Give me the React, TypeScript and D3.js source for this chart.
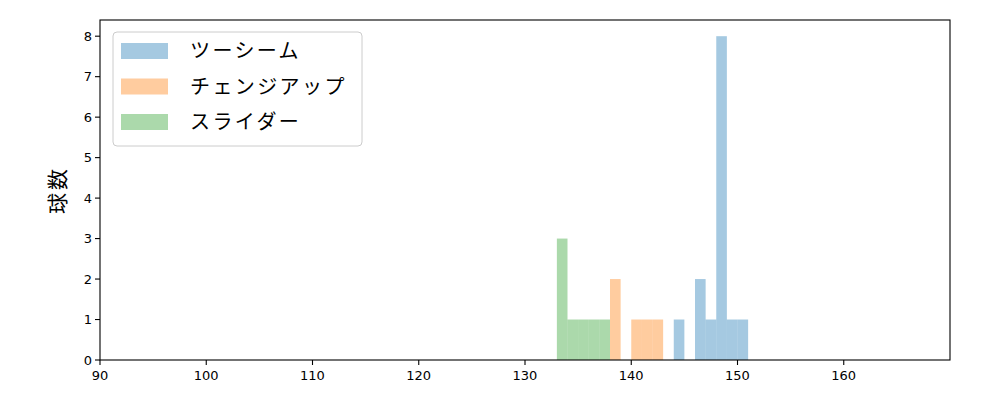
import * as d3 from 'd3';

// bin edges (km/h) and counts per pitch type
const pitchNames = ['ツーシーム', 'チェンジアップ', 'スライダー'];
const pitchColors = ['#1f77b4', '#ff7f0e', '#2ca02c'];

const twoSeamEdges = [144, 145, 146, 147, 148, 149, 150, 151];
const twoSeamCounts = [1, 0, 2, 1, 8, 1, 1];

const changeupEdges = [138, 139, 140, 141, 142, 143];
const changeupCounts = [2, 0, 1, 1, 1];

const sliderEdges = [133, 134, 135, 136, 137, 138];
const sliderCounts = [3, 1, 1, 1, 1];

const xTicks = [90, 100, 110, 120, 130, 140, 150, 160];
const yTicks = [0, 1, 2, 3, 4, 5, 6, 7, 8];

const series = [
  { edges: twoSeamEdges, counts: twoSeamCounts },
  { edges: changeupEdges, counts: changeupCounts },
  { edges: sliderEdges, counts: sliderCounts },
];

export default function App() {
  const width = 1000;
  const height = 400;
  const margin = { top: 20, right: 50, bottom: 40, left: 100 };

  const x = d3
    .scaleLinear()
    .domain([90, 170])
    .range([margin.left, width - margin.right]);
  const y = d3
    .scaleLinear()
    .domain([0, 8.4])
    .range([height - margin.bottom, margin.top]);

  const tickFont = 'DejaVu Sans, sans-serif';
  const jpFont = '"Noto Sans CJK JP", sans-serif';

  return (
    <svg width={width} height={height} style={{ display: 'block', margin: -8 }}>
      <rect width={width} height={height} fill="#fff" />

      {series.map((s, si) => (
        <g key={si} fill={pitchColors[si]} fillOpacity={0.4}>
          {s.counts.map((c, i) =>
            c > 0 ? (
              <rect
                key={i}
                x={x(s.edges[i])}
                width={x(s.edges[i + 1]) - x(s.edges[i])}
                y={y(c)}
                height={y(0) - y(c)}
              />
            ) : null
          )}
        </g>
      ))}

      {/* axes frame */}
      <rect
        x={x(90)}
        y={y(8.4)}
        width={x(170) - x(90)}
        height={y(0) - y(8.4)}
        fill="none"
        stroke="#000"
        strokeWidth={1.1}
      />

      {xTicks.map((t) => (
        <g key={t}>
          <line x1={x(t)} x2={x(t)} y1={y(0)} y2={y(0) + 5} stroke="#000" strokeWidth={1.1} />
          <text
            x={x(t)}
            y={y(0) + 20}
            textAnchor="middle"
            fontSize={13}
            fontFamily={tickFont}
            fill="#000"
          >
            {t}
          </text>
        </g>
      ))}

      {yTicks.map((t) => (
        <g key={t}>
          <line x1={x(90) - 5} x2={x(90)} y1={y(t)} y2={y(t)} stroke="#000" strokeWidth={1.1} />
          <text
            x={x(90) - 8}
            y={y(t)}
            dy="0.35em"
            textAnchor="end"
            fontSize={13}
            fontFamily={tickFont}
            fill="#000"
          >
            {t}
          </text>
        </g>
      ))}

      <text
        transform={`translate(58, ${(y(0) + y(8.4)) / 2}) rotate(-90)`}
        textAnchor="middle"
        dy="0.35em"
        fontSize={21}
        letterSpacing={3}
        fontFamily={jpFont}
        fill="#000"
      >
        球数
      </text>

      {/* legend */}
      <g>
        <rect x={113} y={32} width={249} height={114} rx={4} fill="#fff" fillOpacity={0.8} stroke="#ccc" />
        {pitchNames.map((name, i) => (
          <g key={name} transform={`translate(0, ${51 + i * 35.5})`}>
            <rect x={121} y={-8} width={47} height={16} fill={pitchColors[i]} fillOpacity={0.4} />
            <text
              x={190}
              y={0}
              dy="0.35em"
              fontSize={20}
              letterSpacing={2.4}
              fontFamily={jpFont}
              fill="#000"
            >
              {name}
            </text>
          </g>
        ))}
      </g>
    </svg>
  );
}
